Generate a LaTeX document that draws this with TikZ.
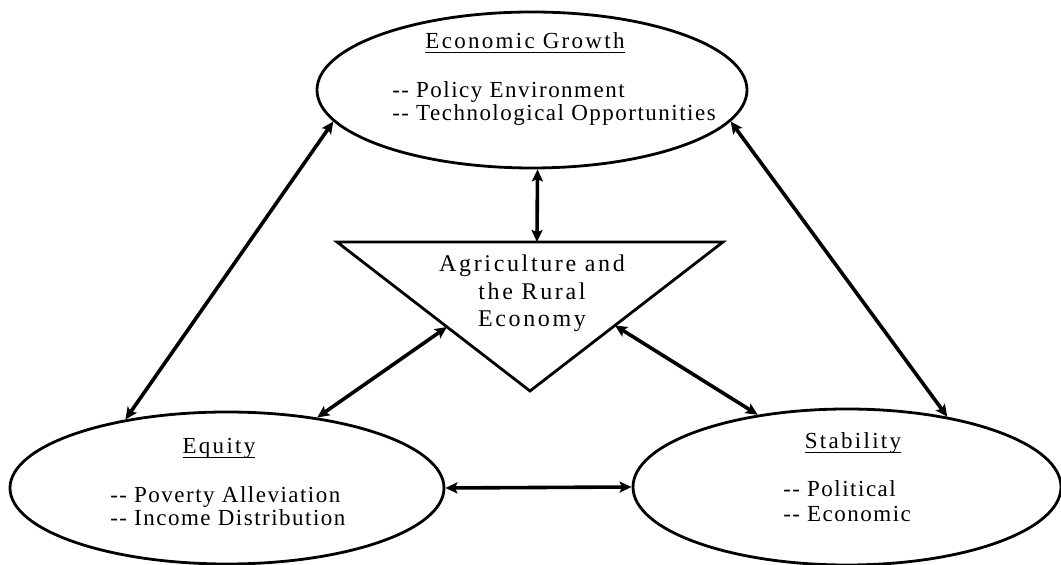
\documentclass[tikz,border=0pt]{standalone}
\usepackage{fontspec}
\setmainfont{Liberation Serif}
\newfontfamily\spacedfont{Liberation Serif}[LetterSpace=6.5]
\newfontfamily\headfont{Liberation Serif}[LetterSpace=10]
\newfontfamily\widefont{Liberation Serif}[LetterSpace=11]
\usetikzlibrary{arrows.meta,shapes.geometric,calc}

% two short hyphens in front of each item
\newcommand{\dd}{\mbox{-}\kern0.6pt\mbox{-}}
% underline that cuts through the descenders
\newcommand{\uln}[1]{\setbox0\hbox{#1}\rlap{\rule[-2.2pt]{\wd0}{0.8pt}}\box0}

\begin{document}
\begin{tikzpicture}[x=0.5pt, y=-0.5pt,
    oval/.style={ellipse, draw, line width=1.4pt, inner sep=0pt},
    head/.style={font=\headfont\fontsize{11.5}{12}\selectfont, anchor=base, inner sep=0pt},
    items/.style={font=\spacedfont\fontsize{11.5}{#1}\selectfont, anchor=base west, inner sep=0pt},
    agritext/.style={font=\widefont\fontsize{12}{13.75}\selectfont, anchor=base, inner sep=0pt},
    link/.style={{Stealth[length=6pt,width=5.5pt,inset=1.2pt]}-{Stealth[length=6pt,width=5.5pt,inset=1.2pt]},
                 line width=1.8pt}]

  \useasboundingbox (0,0) rectangle (1061,565);

  % the three goals
  \node[oval, minimum width=215pt, minimum height=78pt] (growth) at (532,90) {};
  \node[oval, minimum width=217pt, minimum height=76pt] (equity) at (227,488) {};
  \node[oval, minimum width=214pt, minimum height=78pt] (stab)   at (847,487) {};

  \node[head] (growthHead) at (525,49) {\uln{Economic Growth}};
  \node[items=10.4pt] (growthList) at (392,98)
    {\begin{tabular}[t]{@{}l@{}}\dd{} Policy Environment\\\dd{} Technological Opportunities\end{tabular}};

  \node[head] (equityHead) at (219,454) {\uln{Equity}};
  \node[items=11.2pt] (equityList) at (110,503)
    {\begin{tabular}[t]{@{}l@{}}\dd{} Poverty Alleviation\\\dd{} Income Distribution\end{tabular}};

  \node[head] (stabHead) at (853,449) {\uln{Stability}};
  \node[items=12.4pt] (stabList) at (783,497)
    {\begin{tabular}[t]{@{}l@{}}\dd{} Political\\\dd{} Economic\end{tabular}};

  % agriculture triangle in the middle
  \coordinate (agriL) at (337,242);
  \coordinate (agriR) at (723,242);
  \coordinate (agriB) at (530,391);
  \draw[line width=1.4pt] (agriL) -- (agriR) -- (agriB) -- cycle;
  \node[agritext] (agri) at (532,272)
    {\begin{tabular}[t]{@{}c@{}}Agriculture and\\the Rural\\Economy\end{tabular}};

  \coordinate (agriTop)   at ($(agriL)!0.518!(agriR)$);
  \coordinate (agriLeft)  at ($(agriL)!0.57!(agriB)$);
  \coordinate (agriRight) at ($(agriR)!0.56!(agriB)$);

  % links
  \draw[link] (equity.146) -- (growth.189);
  \draw[link] (stab.35) -- (growth.351);
  \draw[link] (growth.274) -- (agriTop);
  \draw[link] (equity.38) -- (agriLeft);
  \draw[link] (stab.141) -- (agriRight);
  \draw[link] (equity.east) -- (stab.west);
\end{tikzpicture}
\end{document}
